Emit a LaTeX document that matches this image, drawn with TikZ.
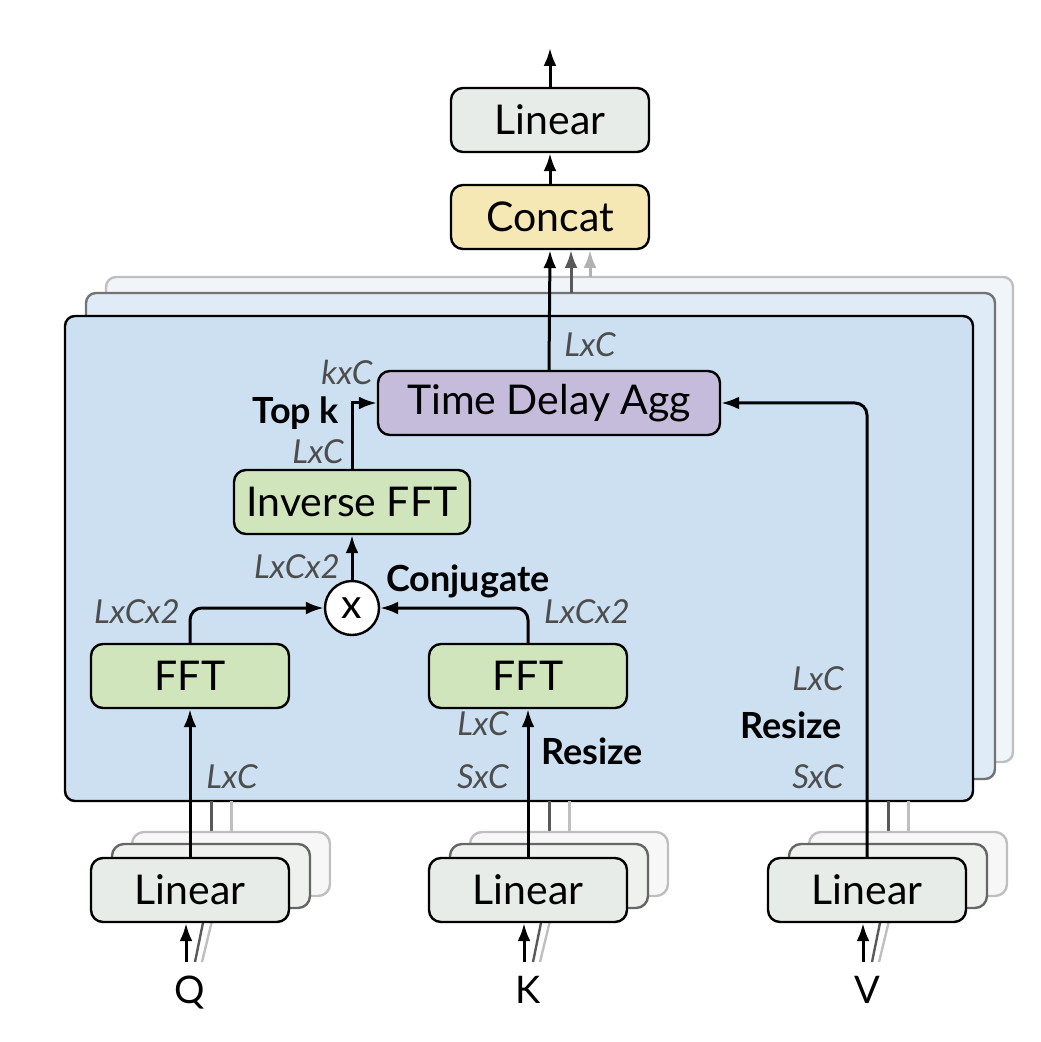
\documentclass[tikz,border=0pt]{standalone}
\usepackage{fontspec}
\setmainfont{Lato}
\usetikzlibrary{arrows.meta,positioning}

\definecolor{linfill}{HTML}{E8ECE9}
\definecolor{catfill}{HTML}{F6E8B5}
\definecolor{tdafill}{HTML}{C5BCDB}
\definecolor{fftfill}{HTML}{D1E5BC}
\definecolor{panfront}{HTML}{CCE0F1}
\definecolor{panmid}{HTML}{DFEBF6}
\definecolor{panback}{HTML}{F0F5FA}
\definecolor{dimgray}{HTML}{4D4D4D}

\tikzset{
	box/.style={draw,rounded corners=6pt,line width=1.2pt,
	            minimum width=99pt,minimum height=32pt,inner sep=0pt,
	            font=\fontsize{20.5}{20.5}\selectfont},
	dims/.style={font=\fontsize{16.5}{16.5}\selectfont\itshape,text=dimgray,inner sep=0pt},
	note/.style={font=\fontsize{18}{18}\selectfont\bfseries,inner sep=0pt},
	flow/.style={line width=1.5pt,-{Latex[length=9pt,width=6.5pt]}},
	feed/.style={line width=1.5pt},
}

\begin{document}
\begin{tikzpicture}[x=0.5pt,y=-0.5pt]
	
	\useasboundingbox (0,0) rectangle (1040,1042);
	
	% The stacked heads
	\draw [line width=1.2pt,draw=black!25,fill=panback,rounded corners=5pt]
	      (106,277) rectangle (1013,762);
	\draw [flow,black!30] (590,277) -- (590,250);
	\draw [line width=1.2pt,draw=black!55,fill=panmid,rounded corners=5pt]
	      (86,293) rectangle (995,779);
	\draw [flow,black!65] (571,293) -- (571,250);
	\draw [line width=1.2pt,draw=black,fill=panfront,rounded corners=5pt]
	      (65,316) rectangle (973,801);
	
	% Output side
	\node [box,fill=linfill] (linout) at (550,120) {Linear};
	\node [box,fill=catfill] (concat) at (550,217) {Concat};
	\coordinate (out) at (550,48);
	\draw [flow] (linout.north) -- (out);
	\draw [flow] (concat.north) -- (linout.south);
	
	% Inside the front head
	\node [box,fill=tdafill,minimum width=171pt] (tda) at (549,403) {Time Delay Agg};
	\node [box,fill=fftfill,minimum width=118pt] (ifft) at (352,502) {Inverse FFT};
	\node [draw,circle,fill=white,line width=1.2pt,minimum size=27pt,inner sep=0pt,
	       font=\fontsize{20.5}{20.5}\selectfont] (mul) at (352,608) {x};
	\node [box,fill=fftfill] (fftQ) at (190,676) {FFT};
	\node [box,fill=fftfill] (fftK) at (528,676) {FFT};
	
	\draw [flow] (tda.north) -- (concat.south);
	\draw [flow] (ifft.north) |- (tda.west);
	\draw [flow] (mul.north) -- (ifft.south);
	\draw [flow,rounded corners=6pt] (fftQ.north) |- (mul.west);
	\draw [flow,rounded corners=6pt] (fftK.north) |- (mul.east);
	
	% The inputs and their linear maps
	\foreach \n/\x in {Q/190,K/528,V/867}{
		% Feeds of the hidden copies
		\draw [feed,black!25] (\x+41,831) -- (\x+41,801);
		\draw [feed,black!65] (\x+21,843) -- (\x+21,801);
		\draw [line width=1.2pt,black!25] (\x+12,962) -- (\x+28,896);
		\draw [line width=1.2pt,black!65] (\x+5,962) -- (\x+16,908);
		% The copies and the front one
		\node [box,draw=black!25,fill=linfill!40] at (\x+41,864) {};
		\node [box,draw=black!60,fill=linfill!75] at (\x+21,876) {};
		\node [box,fill=linfill] (lin\n) at (\x,890) {Linear};
		\node [anchor=north,inner xsep=0pt,inner ysep=7pt,font=\fontsize{19}{19}\selectfont]
		      (in\n) at (\x,962) {\n};
		\draw [flow] ([xshift=-2pt]in\n.north) -- ([xshift=-2pt]lin\n.south);
	}
	
	\draw [flow] (linQ.north) -- (fftQ.south);
	\draw [flow] (linK.north) -- (fftK.south);
	\draw [flow,rounded corners=6pt] (linV.north) |- (tda.east);
	
	% Sizes and notes
	\node [dims] at (590,345) {LxC};
	\node [dims] at (347,372) {kxC};
	\node [note] at (296,413) {Top k};
	\node [dims] at (318,452) {LxC};
	\node [dims] at (297,567) {LxCx2};
	\node [note] at (468,581) {Conjugate};
	\node [dims] at (137,612) {LxCx2};
	\node [dims] at (587,612) {LxCx2};
	\node [dims] at (232,777) {LxC};
	\node [dims] at (483,724) {LxC};
	\node [dims] at (483,777) {SxC};
	\node [note] at (592,751) {Resize};
	\node [dims] at (818,679) {LxC};
	\node [note] at (791,725) {Resize};
	\node [dims] at (818,777) {SxC};
	
\end{tikzpicture}
\end{document}
